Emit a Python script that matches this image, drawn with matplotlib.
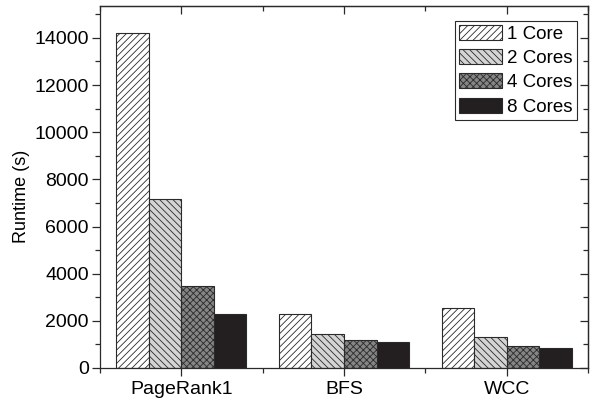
import numpy as np
import matplotlib
matplotlib.use('Agg')
import matplotlib.pyplot as plt
from matplotlib.ticker import MultipleLocator

plt.rcParams['font.family'] = ['Liberation Sans', 'DejaVu Sans']
plt.rcParams['hatch.linewidth'] = 0.6

# Datos
apps = ['PageRank1', 'BFS', 'WCC']
series = ['1 Core', '2 Cores', '4 Cores', '8 Cores']
core1 = [14200, 2270, 2560]
core2 = [7150, 1460, 1330]
core4 = [3480, 1200, 950]
core8 = [2300, 1120, 865]

colors = ['white', '#d4d4d4', '#858585', '#231f20']
hatches = ['/////', '\\\\\\\\\\', 'xxxxx', '']
edge = '#2a2a2a'

fig = plt.figure(figsize=(6.01, 4.04), dpi=100)
ax = fig.add_axes([100 / 601, 1 - 368 / 404, 488 / 601, 362 / 404])

x = np.arange(len(apps))
width = 0.2
for i, (vals, name) in enumerate(zip([core1, core2, core4, core8], series)):
    ax.bar(x + (i - 1.5) * width, vals, width, color=colors[i], hatch=hatches[i],
           edgecolor=edge, linewidth=0.8, label=name)

ax.set_xlim(-0.5, 2.5)
ax.set_ylim(0, 15350)
ax.set_xticks(x)
ax.set_xticklabels(apps, fontsize=14)
ax.xaxis.set_minor_locator(MultipleLocator(0.5))
ax.yaxis.set_major_locator(MultipleLocator(2000))
ax.yaxis.set_minor_locator(MultipleLocator(1000))
ax.tick_params(axis='y', labelsize=14, pad=2)
ax.tick_params(axis='x', pad=3)
ax.set_ylabel('Runtime (s)', fontsize=13)
ax.yaxis.set_label_coords(-70 / 488, 0.475)

ax.tick_params(which='major', length=6, width=0.9, color=edge)
ax.tick_params(which='minor', length=3.5, width=0.9, color=edge)
for spine in ax.spines.values():
    spine.set_linewidth(0.9)
    spine.set_color(edge)

# Ticks hacia dentro en los ejes de arriba y derecha
top = ax.secondary_xaxis('top')
top.set_xticks(x)
top.xaxis.set_minor_locator(MultipleLocator(0.5))
top.tick_params(which='both', direction='in', labeltop=False, width=0.9, color=edge)
top.tick_params(which='major', length=6)
top.tick_params(which='minor', length=3.5)
top.spines['top'].set_linewidth(0.9)
top.spines['top'].set_color(edge)

right = ax.secondary_yaxis('right')
right.yaxis.set_major_locator(MultipleLocator(2000))
right.yaxis.set_minor_locator(MultipleLocator(1000))
right.tick_params(which='both', direction='in', labelright=False, width=0.9, color=edge)
right.tick_params(which='major', length=6)
right.tick_params(which='minor', length=3.5)
right.spines['right'].set_linewidth(0.9)
right.spines['right'].set_color(edge)

leg = ax.legend(loc='upper right', bbox_to_anchor=(577 / 601, 1 - 21 / 404),
                bbox_transform=fig.transFigure, fontsize=13.5, fancybox=False,
                framealpha=1, edgecolor=edge, handlelength=2.3, handleheight=0.85,
                handletextpad=0.3, labelspacing=0.33, borderpad=0.22,
                borderaxespad=0)
leg.get_frame().set_linewidth(0.8)

plt.savefig('out.png', dpi=100)
